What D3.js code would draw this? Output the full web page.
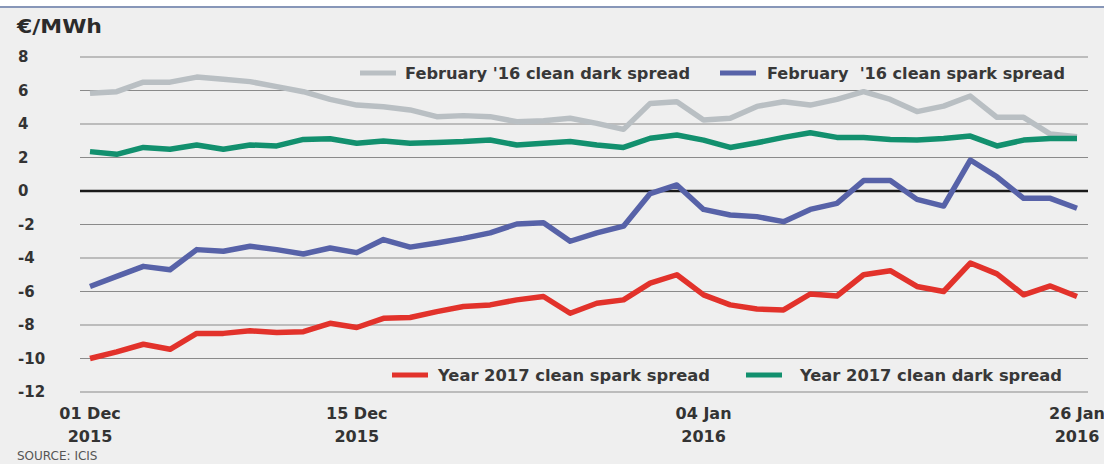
<!DOCTYPE html>
<html>
<head>
<meta charset="utf-8">
<script src="https://cdn.jsdelivr.net/npm/d3@7"></script>
<style>
  body { margin: 0; background: #fff; }
  svg { display: block; }
</style>
</head>
<body>
<div id="chart"></div>
<script>
// y ticks and x tick labels (index of the trading day that carries each label)
const yTicks = [8, 6, 4, 2, 0, -2, -4, -6, -8, -10, -12];
const xTickIndex = [0, 10, 23, 37];
const xTickLabels = [['01 Dec', '2015'], ['15 Dec', '2015'], ['04 Jan', '2016'], ['26 Jan', '2016']];

// series, one value per trading day (38 points)
const febDark = [5.83, 5.93, 6.5, 6.5, 6.8, 6.67, 6.53, 6.23, 5.93, 5.47, 5.13, 5.03, 4.84, 4.44, 4.5, 4.44, 4.14, 4.2, 4.34, 4.04,
  3.68, 5.23, 5.33, 4.24, 4.34, 5.05, 5.33, 5.13, 5.47, 5.93, 5.47, 4.74, 5.07, 5.67, 4.4, 4.4, 3.4, 3.24];
const febSpark = [-5.7, -5.1, -4.5, -4.7, -3.5, -3.6, -3.3, -3.5, -3.76, -3.4, -3.68, -2.9, -3.35, -3.1, -2.83, -2.5, -1.97, -1.9, -3.0, -2.5,
  -2.1, -0.15, 0.36, -1.1, -1.43, -1.53, -1.83, -1.1, -0.74, 0.62, 0.62, -0.5, -0.9, 1.85, 0.85, -0.44, -0.44, -1.03];
const yearSpark = [-10.0, -9.6, -9.15, -9.45, -8.5, -8.5, -8.35, -8.45, -8.4, -7.9, -8.15, -7.6, -7.55, -7.2, -6.9, -6.8, -6.5, -6.3, -7.3, -6.7,
  -6.5, -5.5, -5.0, -6.2, -6.8, -7.05, -7.1, -6.15, -6.27, -5.0, -4.76, -5.7, -6.0, -4.3, -4.95, -6.2, -5.67, -6.3];
const yearDark = [2.35, 2.19, 2.6, 2.49, 2.75, 2.49, 2.75, 2.69, 3.08, 3.12, 2.85, 2.99, 2.85, 2.9, 2.95, 3.04, 2.75, 2.85, 2.95, 2.75,
  2.6, 3.15, 3.34, 3.04, 2.6, 2.88, 3.2, 3.48, 3.2, 3.2, 3.08, 3.04, 3.14, 3.28, 2.69, 3.04, 3.14, 3.14];

const width = 1104, height = 464;
const font = '"DejaVu Sans", "Liberation Sans", sans-serif';

const svg = d3.select('#chart').append('svg')
  .attr('width', width)
  .attr('height', height);

// panel background and the blue rule at the top
svg.append('rect').attr('x', 0).attr('y', 8).attr('width', width).attr('height', height - 8).attr('fill', '#efefef');
svg.append('rect').attr('x', 0).attr('y', 6).attr('width', width).attr('height', 2).attr('fill', '#8796b8');

const x = d3.scaleLinear().domain([0, 37]).range([90, 1077]);
const y = d3.scaleLinear().domain([-12, 8]).range([392, 57]);

// gridlines
svg.append('g')
  .selectAll('line')
  .data(yTicks)
  .join('line')
  .attr('x1', 80)
  .attr('x2', 1088)
  .attr('y1', d => y(d))
  .attr('y2', d => y(d))
  .attr('stroke', d => d === 0 ? '#1a1a1a' : '#8a8a8a')
  .attr('stroke-width', d => d === 0 ? 2.5 : 1.2);

// y tick labels
svg.append('g')
  .selectAll('text')
  .data(yTicks)
  .join('text')
  .attr('x', 18)
  .attr('y', d => y(d) + 5)
  .attr('font-family', font)
  .attr('font-weight', 'bold')
  .attr('font-size', 15)
  .attr('fill', '#333')
  .text(d => d);

// unit title
svg.append('text')
  .attr('x', 17)
  .attr('y', 33)
  .attr('font-family', font)
  .attr('font-weight', 'bold')
  .attr('font-size', 19)
  .attr('fill', '#2b2b2b')
  .attr('textLength', 85)
  .attr('lengthAdjust', 'spacingAndGlyphs')
  .text('€/MWh');

// x tick labels
const xl = svg.append('g')
  .selectAll('text')
  .data(xTickIndex)
  .join('text')
  .attr('text-anchor', 'middle')
  .attr('font-family', font)
  .attr('font-weight', 'bold')
  .attr('font-size', 16)
  .attr('fill', '#333');
xl.append('tspan').attr('x', d => x(d)).attr('y', 419).text((d, i) => xTickLabels[i][0]);
xl.append('tspan').attr('x', d => x(d)).attr('y', 442).text((d, i) => xTickLabels[i][1]);

// source
svg.append('text')
  .attr('x', 17)
  .attr('y', 460)
  .attr('font-family', font)
  .attr('font-size', 12)
  .attr('fill', '#555')
  .text('SOURCE: ICIS');

// lines
const series = [
  { name: "February '16 clean dark spread", values: febDark, color: '#b9bfc3' },
  { name: 'Year 2017 clean dark spread', values: yearDark, color: '#12906e' },
  { name: "February  '16 clean spark spread", values: febSpark, color: '#5762a8' },
  { name: 'Year 2017 clean spark spread', values: yearSpark, color: '#e2322b' }
];

const line = d3.line()
  .x((d, i) => x(i))
  .y(d => y(d));

svg.append('g')
  .selectAll('path')
  .data(series)
  .join('path')
  .attr('d', d => line(d.values))
  .attr('fill', 'none')
  .attr('stroke', d => d.color)
  .attr('stroke-width', 5.5)
  .attr('stroke-linejoin', 'round');

// legends
const legendItems = [
  { s: series[0], x: 360, y: 73, tx: 45, len: 285 },
  { s: series[2], x: 720, y: 73, tx: 47, len: 298 },
  { s: series[3], x: 392, y: 375, tx: 46, len: 272 },
  { s: series[1], x: 746, y: 375, tx: 54, len: 262 }
];
const lg = svg.append('g')
  .selectAll('g')
  .data(legendItems)
  .join('g')
  .attr('transform', d => `translate(${d.x},${d.y})`);
lg.append('line')
  .attr('x1', 0).attr('x2', 36)
  .attr('stroke', d => d.s.color)
  .attr('stroke-width', 5);
lg.append('text')
  .attr('x', d => d.tx)
  .attr('y', 6)
  .attr('font-family', font)
  .attr('font-weight', 'bold')
  .attr('font-size', 15)
  .attr('fill', '#383838')
  .attr('textLength', d => d.len)
  .attr('lengthAdjust', 'spacingAndGlyphs')
  .attr('xml:space', 'preserve')
  .text(d => d.s.name);
</script>
</body>
</html>
